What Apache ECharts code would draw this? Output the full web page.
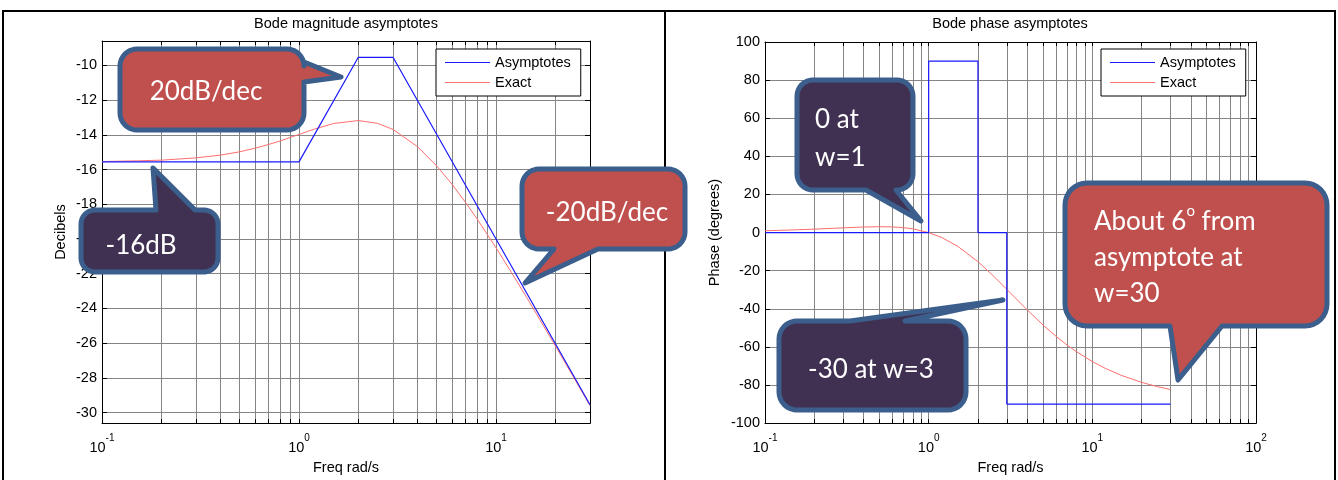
<!DOCTYPE html>
<html><head><meta charset="utf-8">
<script src="https://cdn.jsdelivr.net/npm/echarts@6/dist/echarts.min.js"></script>
<style>html,body{margin:0;padding:0;background:#fff}#c{width:1338px;height:480px}</style>
</head><body><div id="c"></div>
<script>
// ---- data ----
const magAsymFreq = [0.1, 1, 2, 3, 30];
const magAsym = [-15.56, -15.56, -9.54, -9.54, -29.54];
const magExactFreq = [0.1,0.15,0.2,0.3,0.4,0.5,0.6,0.7,0.8,1,1.2,1.5,2,2.5,3,4,5,6,7,8,10,12,15,20,25,30];
const magExact = [-15.54,-15.50,-15.46,-15.33,-15.17,-14.98,-14.77,-14.56,-14.36,-13.98,-13.67,-13.35,-13.18,-13.34,-13.69,-14.69,-15.79,-16.87,-17.89,-18.83,-20.50,-21.94,-23.75,-26.15,-28.04,-29.60];
const phaseAsymFreq = [0.1, 1, 1, 2, 2, 3, 3, 30];
const phaseAsym = [0, 0, 90, 90, 0, 0, -90, -90];
const phaseExactFreq = [0.1,0.15,0.2,0.3,0.4,0.5,0.6,0.7,0.8,1,1.2,1.5,2,2.5,3,4,5,6,7,8,10,12,15,20,25,30];
const phaseExact = [0.94,1.38,1.79,2.46,2.90,3.07,2.96,2.57,1.93,0.00,-2.57,-7.13,-15.26,-22.95,-29.75,-40.60,-48.55,-54.46,-58.99,-62.53,-67.70,-71.27,-74.91,-78.62,-80.87,-82.38];
const magTicks = [-30,-28,-26,-24,-22,-20,-18,-16,-14,-12,-10];
const phaseTicks = [-100,-80,-60,-40,-20,0,20,40,60,80,100];
const magDecades = [0.1, 1, 10];
const phaseDecades = [0.1, 1, 10, 100];
const magGridFreq = [0.1,0.2,0.3,0.4,0.5,0.6,0.7,0.8,0.9,1,2,3,4,5,6,7,8,9,10,20,30];
const phaseGridFreq = [0.1,0.2,0.3,0.4,0.5,0.6,0.7,0.8,0.9,1,2,3,4,5,6,7,8,9,10,20,30,40,50,60,70,80,90,100];

const FONT = 'Liberation Sans, Arial, sans-serif';
const FS = 14.5;
const BLUE = '#1a1aff', PINK = '#ff6f6f';
const pairs = (xs, ys) => xs.map((x, i) => [x, ys[i]]);

const chart = echarts.init(document.getElementById('c'), null, {renderer: 'canvas'});

const gridLine = {show: true, lineStyle: {color: '#858585', width: 1}};
const supRich = {
  b: {fontSize: FS, fontFamily: FONT, color: '#000', lineHeight: 22, verticalAlign: 'bottom'},
  s: {fontSize: 10, fontFamily: FONT, color: '#000', lineHeight: 12, verticalAlign: 'top'}
};
function xAx(grid, min, max, gridVals, labelVals, pos, main, nameGap) {
  return {
    type: 'log', gridIndex: grid, min: min, max: max, position: pos,
    logBase: 10,
    axisLine: {show: true, onZero: false, lineStyle: {color: '#000', width: 1}},
    axisTick: {show: true, inside: true, length: 4, customValues: gridVals, lineStyle: {color: '#000'}},
    axisLabel: main ? {show: true, margin: 10, customValues: labelVals,
      formatter: v => '{b|10}{s|' + Math.round(Math.log10(v)) + '}', rich: supRich} : {show: false},
    splitLine: main ? gridLine : {show: false},
    name: main ? 'Freq rad/s' : '', nameLocation: 'middle', nameGap: nameGap,
    nameTextStyle: {fontSize: FS, fontFamily: FONT, color: '#000'}
  };
}
function yAx(grid, min, max, ticks, pos, main, name, nameGap) {
  return {
    type: 'value', gridIndex: grid, min: min, max: max, position: pos,
    axisLine: {show: true, onZero: false, lineStyle: {color: '#000', width: 1}},
    axisTick: {show: true, inside: true, length: 5, customValues: ticks, lineStyle: {color: '#000'}},
    axisLabel: main ? {show: true, margin: 5, customValues: ticks, fontSize: FS, fontFamily: FONT, color: '#000'} : {show: false},
    splitLine: main ? gridLine : {show: false},
    name: main ? name : '', nameLocation: 'middle', nameGap: nameGap, nameRotate: 90,
    nameTextStyle: {fontSize: FS, fontFamily: FONT, color: '#000'}
  };
}

function bubble(x, y, w, h, r, side, b1, b2, tip) {
  const pts = [];
  const arc = (cx, cy, a0, a1) => {
    for (let i = 0; i <= 8; i++) {
      const a = a0 + (a1 - a0) * i / 8;
      pts.push([cx + r * Math.cos(a), cy + r * Math.sin(a)]);
    }
  };
  arc(x + r, y + r, Math.PI, 1.5 * Math.PI);
  if (side === 'top') pts.push([b1, y], tip, [b2, y]);
  arc(x + w - r, y + r, 1.5 * Math.PI, 2 * Math.PI);
  if (side === 'right') pts.push([x + w, b1], tip, [x + w, b2]);
  arc(x + w - r, y + h - r, 0, 0.5 * Math.PI);
  if (side === 'bottom') pts.push([b2, y + h], tip, [b1, y + h]);
  arc(x + r, y + h - r, 0.5 * Math.PI, Math.PI);
  if (side === 'left') pts.push([x, b2], tip, [x, b1]);
  return pts;
}
const RED = '#C0504D', PURPLE = '#403152', EDGE = '#3B5E8C';
const CFONT = 'Lato, Open Sans, sans-serif';
function bub(points, fill) {
  return {type: 'polygon', shape: {points: points}, z: 100,
    style: {fill: fill, stroke: EDGE, lineWidth: 5, lineJoin: 'round'}};
}
function btxt(x, y, text, align, extra) {
  return {type: 'text', x: x, y: y, z: 101,
    style: Object.assign({text: text, fill: '#fff', fontSize: 26, fontFamily: CFONT,
      align: align || 'center', verticalAlign: 'middle', lineHeight: 36}, extra || {})};
}
function line(x1, y1, x2, y2, w) {
  return {type: 'line', z: 60, shape: {x1: x1, y1: y1, x2: x2, y2: y2}, style: {stroke: '#000', lineWidth: w}};
}

function legendAt(left) {
  return {
    left: left, orient: 'vertical', top: 49, padding: [6, 10, 6, 9], itemWidth: 45, itemHeight: 1,
    icon: 'rect', itemGap: 5, backgroundColor: '#fff', borderColor: '#000', borderWidth: 1,
    borderRadius: 0, textStyle: {fontSize: FS, fontFamily: FONT, color: '#000'},
    selectedMode: false, z: 50,
    data: [
      {name: 'Asymptotes', icon: 'rect', itemStyle: {color: BLUE, borderWidth: 0}},
      {name: 'Exact', icon: 'rect', itemStyle: {color: PINK, borderWidth: 0}}
    ]
  };
}

chart.setOption({
  animation: false,
  backgroundColor: '#fff',
  grid: [
    {left: 102, top: 41, width: 488, height: 384},
    {left: 765, top: 42, width: 491, height: 388}
  ],
  xAxis: [
    xAx(0, 0.1, 30, magGridFreq, magDecades, 'bottom', true, 32),
    xAx(0, 0.1, 30, magGridFreq, magDecades, 'top', false, 0),
    xAx(1, 0.1, 100, phaseGridFreq, phaseDecades, 'bottom', true, 30),
    xAx(1, 0.1, 100, phaseGridFreq, phaseDecades, 'top', false, 0)
  ],
  yAxis: [
    yAx(0, -30.6, -8.6, magTicks, 'left', true, 'Decibels', 34),
    yAx(0, -30.6, -8.6, magTicks, 'right', false, '', 0),
    yAx(1, -100, 100, phaseTicks, 'left', true, 'Phase (degrees)', 43),
    yAx(1, -100, 100, phaseTicks, 'right', false, '', 0)
  ],
  legend: [legendAt(436), legendAt(1101)],
  series: [
    {name: 'Asymptotes', type: 'line', xAxisIndex: 0, yAxisIndex: 0, symbol: 'none', data: pairs(magAsymFreq, magAsym),
      lineStyle: {color: BLUE, width: 1.2}, itemStyle: {color: BLUE}, z: 3},
    {name: 'Exact', type: 'line', xAxisIndex: 0, yAxisIndex: 0, symbol: 'none', data: pairs(magExactFreq, magExact),
      lineStyle: {color: PINK, width: 1}, itemStyle: {color: PINK}, z: 2},
    {name: 'Asymptotes', type: 'line', xAxisIndex: 2, yAxisIndex: 2, symbol: 'none', data: pairs(phaseAsymFreq, phaseAsym),
      lineStyle: {color: BLUE, width: 1.2}, itemStyle: {color: BLUE}, z: 3},
    {name: 'Exact', type: 'line', xAxisIndex: 2, yAxisIndex: 2, symbol: 'none', data: pairs(phaseExactFreq, phaseExact),
      lineStyle: {color: PINK, width: 1}, itemStyle: {color: PINK}, z: 2}
  ],
  graphic: [
    // page frame (below the callouts)
    line(2, 11, 1336, 11, 2), line(3, 11, 3, 480, 2), line(665, 11, 665, 480, 2), line(1335, 11, 1335, 480, 2),
    // titles
    {type: 'text', x: 346, y: 24, style: {text: 'Bode magnitude asymptotes', fontSize: FS, fontFamily: FONT, fill: '#000', align: 'center', verticalAlign: 'middle'}},
    {type: 'text', x: 1010, y: 24, style: {text: 'Bode phase asymptotes', fontSize: FS, fontFamily: FONT, fill: '#000', align: 'center', verticalAlign: 'middle'}},
    // callouts
    bub(bubble(120, 49, 184, 81, 17, 'right', 62, 82, [341, 77]), RED),
    btxt(206, 92, '20dB/dec'),
    bub(bubble(81, 210, 137, 62, 14, 'top', 156, 195, [153, 168]), PURPLE),
    btxt(141, 246, '-16dB'),
    bub(bubble(522, 169, 163, 80, 17, 'bottom', 554, 598, [525, 283]), RED),
    btxt(607, 213, '-20dB/dec'),
    bub(bubble(797, 80, 116, 110, 16, 'bottom', 866, 896, [921, 221]), PURPLE),
    btxt(815, 139, '0 at\nw=1', 'left', {lineHeight: 38}),
    bub(bubble(779, 321, 187, 89, 18, 'top', 850, 905, [1003, 300]), PURPLE),
    btxt(871, 370, '-30 at w=3'),
    bub(bubble(1065, 183, 262, 143, 22, 'bottom', 1170, 1222, [1178, 380]), RED),
    btxt(1094, 258, 'About 6{sup|o} from\nasymptote at\nw=30', 'left',
      {rich: {sup: {fontSize: 15, fill: '#fff', fontFamily: CFONT, verticalAlign: 'top', lineHeight: 36}}})
  ]
});
</script>
</body></html>
